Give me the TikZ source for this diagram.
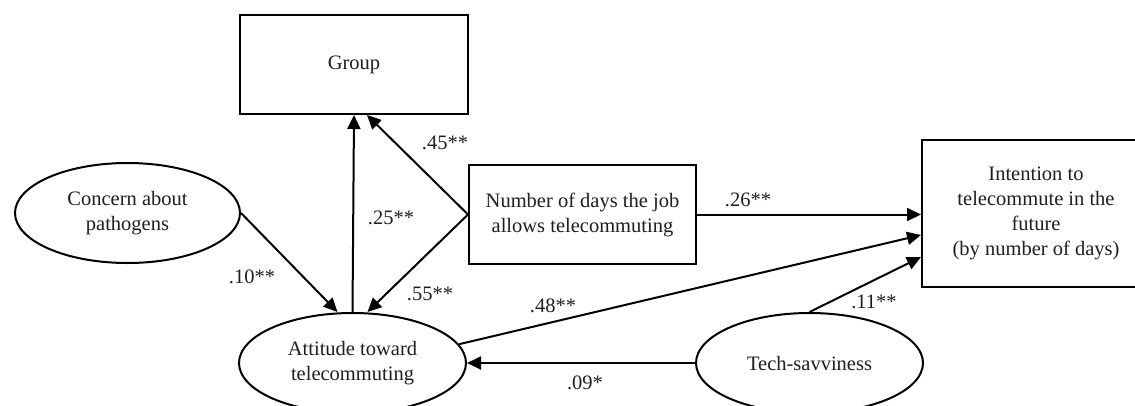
\documentclass[tikz,border=0pt]{standalone}
\usepackage{fontspec}
\setmainfont{Liberation Serif}
\usetikzlibrary{arrows.meta,shapes.geometric}

\tikzset{
  every node/.style={font=\fontsize{20.5}{25}\selectfont, text=black!88},
  box/.style={draw, line width=2pt, rectangle, align=center, inner sep=0pt},
  oval/.style={draw, line width=2pt, ellipse, align=center, inner sep=0pt,
               minimum width=227pt, minimum height=100pt},
  link/.style={line width=2pt, -{Triangle[length=14pt,width=13pt]}},
  coef/.style={inner sep=0pt}
}

\begin{document}
\begin{tikzpicture}[x=1pt, y=-1pt]
  \useasboundingbox (0,0) rectangle (1135,405);
  \clip (0,0) rectangle (1135,405);
  \fill[white] (0,0) rectangle (1135,405);

  % variables
  \node[box, minimum width=228pt, minimum height=99pt] (group) at (354,64.5) {Group};
  \node[oval, minimum width=225pt] (concern) at (127.5,213) {Concern about\\pathogens};
  \node[box, minimum width=227pt, minimum height=99pt] (days) at (582.5,214.5)
       {Number of days the job\\allows telecommuting};
  \node[box, minimum width=228pt, minimum height=147pt] (intent) at (1036,213.5)
       {Intention to\\telecommute in the\\future\\(by number of days)};
  \node[oval] (attitude) at (352.5,363) {Attitude toward\\telecommuting};
  \node[oval] (tech) at (809.5,363) {Tech-savviness};

  % paths
  \draw[link] (concern.east) -- ([xshift=-15pt]attitude.north);
  \draw[link] (attitude.north) -- (group.south);
  \draw[link] (days.west) -- ([xshift=13pt]group.south);
  \draw[link] (days.west) -- ([xshift=15pt]attitude.north);
  \draw[link] (days.east) -- (days.east -| intent.west);
  \draw[link] (attitude.10) -- ([yshift=-21.5pt]intent.west);
  \draw[link] (tech.north) -- ([yshift=-43.5pt]intent.west);
  \draw[link] (tech.west) -- (attitude.east);

  % path coefficients
  \node[coef] (c45) at (445,143) {.45**};
  \node[coef] (c25) at (391,218) {.25**};
  \node[coef] (c10) at (252,277) {.10**};
  \node[coef] (c55) at (430,294) {.55**};
  \node[coef] (c48) at (553,306) {.48**};
  \node[coef] (c26) at (748,200) {.26**};
  \node[coef] (c11) at (874,302) {.11**};
  \node[coef] (c09) at (585,383) {.09*};
\end{tikzpicture}
\end{document}
